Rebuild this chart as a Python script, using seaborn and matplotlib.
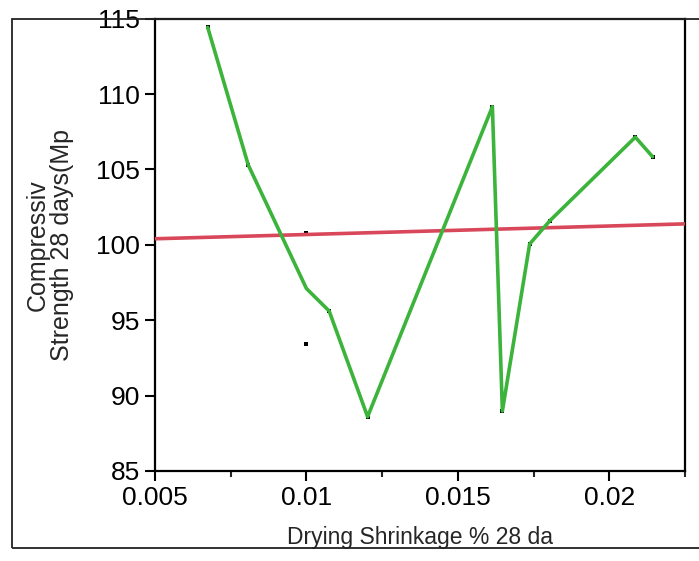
import matplotlib
matplotlib.use("Agg")
import os
import matplotlib.pyplot as plt
from matplotlib import font_manager as fm
import seaborn as sns
import pandas as pd
from matplotlib.patches import Rectangle
from matplotlib.ticker import MultipleLocator

shrinkage = [0.00674, 0.00808, 0.0100, 0.0100, 0.01075, 0.01202,
             0.01614, 0.01647, 0.01737, 0.01804, 0.02086, 0.02143]
strength = [114.42, 105.29, 100.78, 93.42, 95.61, 88.60,
            109.16, 88.98, 100.05, 101.6, 107.14, 105.84]
x_ticks = [0.005, 0.01, 0.015, 0.02]
x_tick_labels = ["0.005", "0.01", "0.015", "0.02"]
y_ticks = [85, 90, 95, 100, 105, 110, 115]

df = pd.DataFrame({"x": shrinkage, "y": strength})

sns.set_style("ticks")
plt.rcParams["font.family"] = ["Liberation Sans", "DejaVu Sans"]

# locate the regular (non-narrow) Liberation Sans file
font_path = None
for f in fm.findSystemFonts():
    if os.path.basename(f) == "LiberationSans-Regular.ttf":
        font_path = f
        break


def fp(size):
    if font_path:
        return fm.FontProperties(fname=font_path, size=size)
    return fm.FontProperties(family=["Liberation Sans", "DejaVu Sans"], size=size)


fig = plt.figure(figsize=(6.99, 5.61), dpi=100)
ax = fig.add_axes([155/699, 1-471/561, (685-155)/699, (471-18.6)/561])

ax.set_xlim(0.005, 0.0225)
ax.set_ylim(85, 115)

sns.scatterplot(data=df, x="x", y="y", ax=ax, marker="s", s=10,
                color="black", edgecolor="black", linewidth=0, zorder=2)
sns.regplot(data=df, x="x", y="y", ax=ax, scatter=False, ci=None,
            truncate=False, color="#d9475a",
            line_kws={"linewidth": 2.6, "zorder": 3})
sns.lineplot(data=df, x="x", y="y", ax=ax, errorbar=None,
             color="#3cb43c", linewidth=2.6, zorder=4)

ax.set_xlim(0.005, 0.0225)
ax.set_ylim(85, 115)
ax.set_xticks(x_ticks)
ax.set_xticklabels(x_tick_labels, fontproperties=fp(19))
ax.xaxis.set_minor_locator(MultipleLocator(0.0025))
ax.set_yticks(y_ticks)
ax.set_yticklabels([str(v) for v in y_ticks], fontproperties=fp(19))

ax.tick_params(axis="both", which="major", direction="out",
               length=7, width=1.5, colors="black", pad=4)
ax.tick_params(axis="x", which="minor", direction="out", length=4, width=1.5)
for side in ["left", "bottom", "right", "top"]:
    ax.spines[side].set_visible(True)
    ax.spines[side].set_linewidth(1.6)
    ax.spines[side].set_color("black")

ax.set_xlabel("Drying Shrinkage % 28 da", fontproperties=fp(16.5), labelpad=11)
ax.set_ylabel("Compressiv\nStrength 28 days(Mp", fontproperties=fp(18),
              labelpad=16, linespacing=1.0)

# outer frame of the figure
fig.patches.append(Rectangle((12/699, 1-548/561), 1.0, (548-18.6)/561,
                             transform=fig.transFigure, fill=False,
                             edgecolor="#222222", linewidth=1.3))

fig.savefig("out.png", dpi=100)
